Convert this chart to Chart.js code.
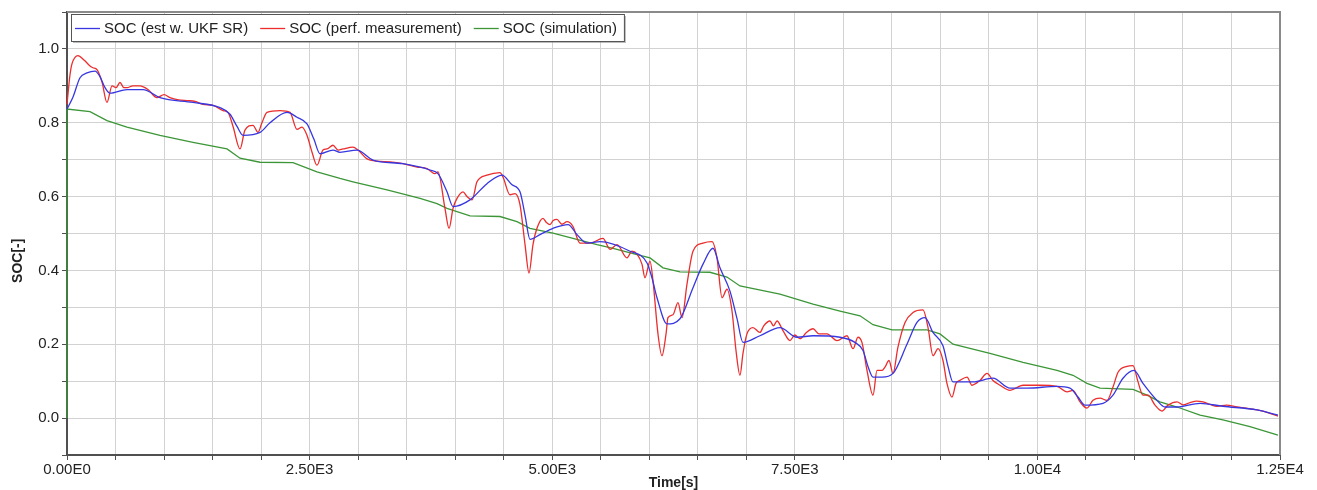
<!DOCTYPE html>
<html>
<head>
<meta charset="utf-8">
<script src="https://cdn.jsdelivr.net/npm/chart.js@4/dist/chart.umd.min.js"></script>
<style>
  html, body { margin: 0; padding: 0; background: #fff; }
  #wrap { width: 1317px; height: 490px; }
</style>
</head>
<body>
<div id="wrap"><canvas id="socChart" width="1317" height="490"></canvas></div>
<script>
// series names
var seriesNames = ['SOC (est w. UKF SR)', 'SOC (perf. measurement)', 'SOC (simulation)'];

// estimated SOC (blue), time in s
var tEst = [0, 62, 134, 206, 289, 340, 392, 443, 618, 783,
  958, 1298, 1577, 1680, 1752, 1814, 1989, 2092, 2267, 2370,
  2473, 2545, 2607, 2741, 2813, 2988, 3153, 3462, 3741, 3823,
  3916, 3978, 4153, 4328, 4483, 4586, 4668, 4720, 4771, 4874,
  5008, 5163, 5256, 5359, 5493, 5802, 5977, 6028, 6080, 6183,
  6317, 6451, 6554, 6657, 6729, 6832, 6904, 6966, 7141, 7347,
  7523, 7688, 7966, 8120, 8203, 8254, 8306, 8399, 8512, 8656,
  8759, 8842, 8924, 9027, 9079, 9130, 9336, 9542, 9718, 9893,
  10202, 10336, 10418, 10490, 10676, 10779, 10882, 10995, 11088, 11232,
  11315, 11439, 11676, 11912, 12263, 12479];
var socEst = [0.837, 0.87, 0.922, 0.935, 0.94, 0.925, 0.895, 0.88, 0.89, 0.89,
  0.868, 0.855, 0.841, 0.823, 0.79, 0.766, 0.774, 0.80, 0.828, 0.815,
  0.797, 0.755, 0.716, 0.726, 0.72, 0.726, 0.699, 0.689, 0.672, 0.662,
  0.613, 0.573, 0.591, 0.635, 0.658, 0.632, 0.613, 0.55, 0.484, 0.497,
  0.514, 0.524, 0.497, 0.474, 0.478, 0.452, 0.42, 0.38, 0.326, 0.255,
  0.269, 0.353, 0.417, 0.46, 0.407, 0.344, 0.27, 0.205, 0.223, 0.245,
  0.219, 0.223, 0.219, 0.205, 0.183, 0.14, 0.111, 0.111, 0.121, 0.20,
  0.259, 0.272, 0.232, 0.196, 0.14, 0.098, 0.098, 0.108, 0.081, 0.081,
  0.086, 0.081, 0.057, 0.035, 0.04, 0.062, 0.108, 0.129, 0.094, 0.048,
  0.03, 0.03, 0.04, 0.032, 0.022, 0.008];

// measured SOC (red)
var tMeas = [0, 31, 52, 113, 175, 237, 268, 309, 361, 412,
  464, 505, 546, 587, 618, 680, 752, 835, 927, 1000,
  1061, 1150, 1237, 1320, 1401, 1505, 1608, 1659, 1711, 1783,
  1834, 1917, 1968, 2009, 2061, 2195, 2298, 2370, 2422, 2473,
  2525, 2576, 2638, 2679, 2741, 2793, 2844, 2947, 2999, 3092,
  3195, 3329, 3462, 3607, 3710, 3792, 3823, 3895, 3937, 3978,
  4019, 4081, 4122, 4174, 4225, 4328, 4462, 4493, 4565, 4617,
  4668, 4720, 4761, 4802, 4843, 4905, 4940, 4977, 5010, 5049,
  5100, 5153, 5214, 5286, 5390, 5523, 5596, 5668, 5771, 5822,
  5874, 5925, 5956, 6008, 6039, 6090, 6131, 6173, 6193, 6245,
  6296, 6338, 6389, 6451, 6554, 6647, 6698, 6750, 6801, 6853,
  6894, 6935, 6966, 7007, 7069, 7141, 7180, 7244, 7280, 7317,
  7378, 7451, 7500, 7554, 7620, 7688, 7750, 7832, 7935, 8038,
  8100, 8151, 8192, 8244, 8306, 8347, 8399, 8429, 8471, 8512,
  8563, 8636, 8718, 8821, 8873, 8924, 8976, 9027, 9068, 9120,
  9161, 9202, 9275, 9326, 9408, 9481, 9542, 9615, 9718, 9852,
  10027, 10202, 10305, 10367, 10439, 10511, 10573, 10645, 10717, 10779,
  10831, 10923, 10985, 11037, 11088, 11140, 11212, 11284, 11346, 11439,
  11500, 11573, 11640, 11706, 11780, 11851, 11950, 12057, 12150, 12263,
  12397, 12479];
var socMeas = [0.85, 0.93, 0.96, 0.982, 0.97, 0.954, 0.949, 0.944, 0.91, 0.855,
  0.90, 0.895, 0.909, 0.895, 0.895, 0.90, 0.90, 0.89, 0.868, 0.876,
  0.868, 0.862, 0.86, 0.858, 0.85, 0.847, 0.833, 0.828, 0.79, 0.729,
  0.78, 0.793, 0.774, 0.80, 0.828, 0.833, 0.828, 0.782, 0.788, 0.766,
  0.72, 0.685, 0.726, 0.729, 0.739, 0.726, 0.729, 0.734, 0.726, 0.702,
  0.696, 0.694, 0.689, 0.68, 0.676, 0.662, 0.667, 0.568, 0.514, 0.568,
  0.595, 0.613, 0.60, 0.591, 0.64, 0.658, 0.665, 0.653, 0.605, 0.608,
  0.578, 0.47, 0.393, 0.47, 0.514, 0.541, 0.53, 0.524, 0.535, 0.538,
  0.525, 0.532, 0.519, 0.474, 0.474, 0.487, 0.457, 0.47, 0.434, 0.452,
  0.444, 0.417, 0.38, 0.425, 0.371, 0.228, 0.169, 0.228, 0.272, 0.28,
  0.313, 0.272, 0.363, 0.452, 0.474, 0.478, 0.434, 0.326, 0.349, 0.29,
  0.183, 0.116, 0.175, 0.228, 0.245, 0.232, 0.25, 0.263, 0.25, 0.263,
  0.237, 0.21, 0.225, 0.215, 0.232, 0.242, 0.228, 0.228, 0.21, 0.223,
  0.188, 0.219, 0.205, 0.129, 0.062, 0.129, 0.129, 0.138, 0.156, 0.121,
  0.192, 0.259, 0.286, 0.293, 0.245, 0.169, 0.188, 0.156, 0.094, 0.057,
  0.094, 0.102, 0.111, 0.089, 0.102, 0.121, 0.102, 0.089, 0.075, 0.089,
  0.089, 0.086, 0.071, 0.075, 0.044, 0.027, 0.048, 0.054, 0.048, 0.084,
  0.124, 0.14, 0.142, 0.098, 0.062, 0.062, 0.035, 0.019, 0.035, 0.044,
  0.036, 0.042, 0.046, 0.044, 0.037, 0.032, 0.035, 0.03, 0.027, 0.022,
  0.013, 0.005];

// simulated SOC (green)
var tSim = [0, 0, 237, 412, 618, 958, 1298, 1649, 1783, 1989,
  2329, 2576, 2813, 2947, 3298, 3638, 3813, 3916, 4153, 4462,
  4637, 4771, 5008, 5214, 5462, 5627, 5874, 6008, 6142, 6317,
  6626, 6801, 6935, 7347, 7688, 7966, 8172, 8306, 8502, 8862,
  8996, 9130, 9511, 9852, 10202, 10367, 10511, 10645, 10985, 11130,
  11263, 11439, 11676, 11912, 12191, 12479];
var socSim = [0.0, 0.837, 0.83, 0.806, 0.788, 0.766, 0.747, 0.729, 0.704, 0.693,
  0.692, 0.667, 0.649, 0.64, 0.618, 0.595, 0.581, 0.568, 0.548, 0.546,
  0.532, 0.514, 0.501, 0.487, 0.47, 0.46, 0.443, 0.434, 0.407, 0.396,
  0.395, 0.382, 0.358, 0.336, 0.309, 0.29, 0.277, 0.253, 0.239, 0.239,
  0.228, 0.20, 0.175, 0.151, 0.129, 0.116, 0.094, 0.081, 0.078, 0.062,
  0.044, 0.03, 0.008, -0.005, -0.023, -0.046];

// tick labels
var xLabelValues = [0, 2500, 5000, 7500, 10000, 12500];
var xLabelTexts = ['0.00E0', '2.50E3', '5.00E3', '7.50E3', '1.00E4', '1.25E4'];
var yLabelValues = [0.0, 0.2, 0.4, 0.6, 0.8, 1.0];
var yLabelTexts = ['0.0', '0.2', '0.4', '0.6', '0.8', '1.0'];

var lineColors = ['rgb(55,55,225)', 'rgb(235,45,45)', 'rgb(60,150,55)'];

function toPoints(t, v) {
  return t.map(function (x, i) { return { x: x, y: v[i] }; });
}

var FONT = '"Liberation Sans", Arial, sans-serif';

// draws frame (top/right) and the boxed legend inside the plot
var framePlugin = {
  id: 'frameAndLegend',
  afterDraw: function (chart) {
    var ctx = chart.ctx, a = chart.chartArea;
    ctx.save();
    ctx.strokeStyle = '#8a8a8a';
    ctx.lineWidth = 2;
    ctx.beginPath();
    ctx.moveTo(a.left, a.top);
    ctx.lineTo(a.right, a.top);
    ctx.lineTo(a.right, a.bottom);
    ctx.stroke();

    // legend
    ctx.font = '15px ' + FONT;
    var x0 = a.left + 4, y0 = a.top + 2, h = 27, sample = 25;
    var w = 4;
    chart.data.datasets.forEach(function (ds) {
      w += sample + 4 + ctx.measureText(ds.label).width + 12;
    });
    w = w - 12 + 7;
    ctx.fillStyle = 'rgba(120,120,120,0.5)';
    ctx.fillRect(x0 + 2, y0 + 2, w, h);
    ctx.fillStyle = '#fff';
    ctx.fillRect(x0, y0, w, h);
    ctx.strokeStyle = '#555';
    ctx.lineWidth = 1;
    ctx.strokeRect(x0 + 0.5, y0 + 0.5, w, h);
    var cx = x0 + 4, cy = y0 + h / 2 + 1;
    ctx.textBaseline = 'middle';
    chart.data.datasets.forEach(function (ds) {
      ctx.strokeStyle = ds.borderColor;
      ctx.lineWidth = 1.3;
      ctx.beginPath();
      ctx.moveTo(cx, cy);
      ctx.lineTo(cx + sample, cy);
      ctx.stroke();
      cx += sample + 4;
      ctx.fillStyle = '#222';
      ctx.fillText(ds.label, cx, cy);
      cx += ctx.measureText(ds.label).width + 12;
    });
    ctx.restore();
  }
};

var ctx = document.getElementById('socChart');
var socChart = new Chart(ctx, {
  type: 'line',
  data: {
    datasets: [
      { label: seriesNames[0], data: toPoints(tEst, socEst), borderColor: lineColors[0],
        cubicInterpolationMode: 'monotone', clip: 4 },
      { label: seriesNames[1], data: toPoints(tMeas, socMeas), borderColor: lineColors[1],
        cubicInterpolationMode: 'monotone', clip: 4 },
      { label: seriesNames[2], data: toPoints(tSim, socSim), borderColor: lineColors[2], clip: 4 }
    ]
  },
  options: {
    responsive: false,
    animation: false,
    devicePixelRatio: 1,
    layout: { padding: { left: 0, right: 37, top: 10, bottom: 0 } },
    elements: {
      point: { radius: 0 },
      line: { borderWidth: 1.3, tension: 0, fill: false }
    },
    plugins: {
      legend: { display: false },
      tooltip: { enabled: false }
    },
    scales: {
      x: {
        type: 'linear',
        min: 0,
        max: 12500,
        afterFit: function (s) { s.height = 35; s.paddingLeft = 0; s.paddingRight = 0; },
        grid: { color: '#d2d2d2', lineWidth: 1, tickLength: 5, tickColor: '#505050' },
        border: { color: '#505050', width: 2 },
        ticks: {
          stepSize: 500,
          autoSkip: false,
          maxRotation: 0,
          padding: 1,
          color: '#222',
          font: { family: FONT, size: 15 },
          callback: function (v) {
            var i = xLabelValues.indexOf(Math.round(v));
            return i >= 0 ? xLabelTexts[i] : '';
          }
        },
        title: {
          display: true,
          text: 'Time[s]',
          color: '#222',
          font: { family: FONT, size: 14, weight: 'bold' },
          padding: { top: 0, bottom: -2 }
        }
      },
      y: {
        min: -0.1,
        max: 1.1,
        afterFit: function (s) { s.width = 67; },
        grid: { color: '#d2d2d2', lineWidth: 1, tickLength: 5, tickColor: '#505050' },
        border: { color: '#505050', width: 2 },
        ticks: {
          stepSize: 0.1,
          autoSkip: false,
          padding: 3,
          color: '#222',
          font: { family: FONT, size: 15 },
          callback: function (v) {
            for (var i = 0; i < yLabelValues.length; i++) {
              if (Math.abs(yLabelValues[i] - v) < 1e-6) return yLabelTexts[i];
            }
            return '';
          }
        },
        title: {
          display: true,
          // trailing spaces move the rotated title a little lower, as in the original
          text: 'SOC[-]' + '\u00a0'.repeat(14),
          color: '#222',
          font: { family: FONT, size: 14, weight: 'bold' },
          padding: { top: 10, bottom: 0 }
        }
      }
    }
  },
  plugins: [framePlugin]
});
</script>
</body>
</html>
